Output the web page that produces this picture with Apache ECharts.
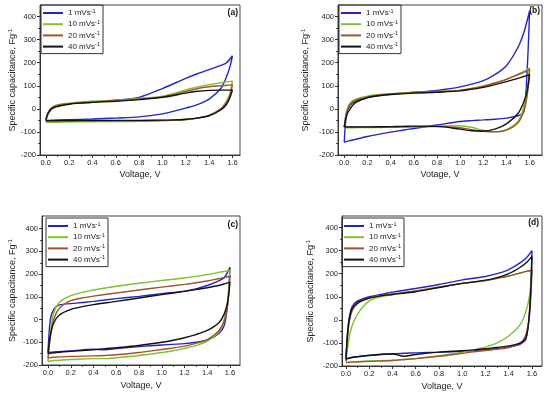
<!DOCTYPE html>
<html><head><meta charset="utf-8">
<script src="https://cdn.jsdelivr.net/npm/echarts@6/dist/echarts.min.js"></script>
<style>html,body{margin:0;padding:0;background:#fff}#c{width:550px;height:398px}</style>
</head><body><div id="c"></div>
<script>
// ---- data ----
const VF = [0, 0.02, 0.05, 0.1, 0.2, 0.3, 0.4, 0.6, 0.8, 1.0, 1.2, 1.3, 1.4, 1.5, 1.55, 1.6];
const VR = [1.6, 1.58, 1.55, 1.5, 1.4, 1.3, 1.2, 1.1, 1.0, 0.8, 0.6, 0.5, 0.4, 0.2, 0.05, 0];
const seriesNames = ['1 mVs', '10 mVs', '20 mVs', '40 mVs'];
const panelLabels = ['(a)', '(b)', '(c)', '(d)'];
const xTitles = ['Voltage, V', 'Votage, V', 'Voltage, V', 'Voltage, V'];
const yTitle = 'Specific capacitance, Fg';
const xTicks = [0, 0.2, 0.4, 0.6, 0.8, 1.0, 1.2, 1.4, 1.6];
const xMinorTicks = [0.1, 0.3, 0.5, 0.7, 0.9, 1.1, 1.3, 1.5];
const yTicks = [-200, -100, 0, 100, 200, 300, 400];
const yMinorTicks = [-150, -50, 50, 150, 250, 350];

// panel (a)
const A1F = [-50, -15, 5, 15, 22, 26, 30, 38, 50, 88, 132, 152, 170, 188, 200, 230];
const A1R = [230, 185, 140, 88, 42, 18, 3, -10, -22, -35, -40, -42, -44, -47, -50, -52];
const A10F = [-55, -20, 5, 18, 25, 30, 33, 38, 45, 55, 82, 95, 105, 113, 117, 120];
const A10R = [120, 70, 35, 0, -28, -40, -47, -50, -52, -54, -55, -55, -56, -57, -58, -58];
const A20F = [-50, -18, 5, 15, 22, 27, 30, 36, 42, 52, 75, 88, 96, 100, 102, 105];
const A20R = [105, 60, 28, 0, -28, -40, -46, -49, -50, -52, -52, -53, -53, -54, -55, -55];
const A40F = [-45, -20, 0, 10, 20, 25, 28, 33, 40, 50, 68, 76, 80, 81, 81, 81];
const A40R = [81, 50, 20, -5, -30, -40, -45, -48, -49, -50, -50, -50, -50, -50, -50, -50];
// panel (b)
const B1F = [-145, -20, 15, 35, 50, 58, 63, 72, 80, 95, 122, 148, 187, 267, 330, 425];
const B1R = [425, 180, -12, -30, -40, -45, -48, -51, -55, -70, -85, -93, -101, -120, -138, -145];
const B10F = [-82, -10, 25, 42, 55, 62, 66, 71, 75, 80, 98, 112, 128, 150, 162, 178];
const B10R = [178, 90, 10, -55, -90, -100, -93, -80, -73, -75, -78, -79, -80, -81, -82, -82];
const B20F = [-80, -15, 20, 38, 52, 60, 65, 70, 74, 80, 98, 112, 128, 148, 158, 170];
const B20R = [170, 60, -10, -60, -92, -100, -97, -90, -82, -76, -77, -78, -79, -80, -80, -80];
const B40F = [-78, -30, 0, 28, 48, 57, 62, 68, 72, 78, 93, 105, 118, 132, 140, 148];
const B40R = [148, 80, 30, -20, -65, -88, -97, -95, -88, -76, -75, -76, -77, -78, -78, -78];
// panel (c)
const C1F = [-145, 0, 45, 65, 70, 75, 80, 92, 102, 114, 125, 135, 150, 170, 185, 230];
const C1R = [230, 70, -25, -62, -90, -100, -106, -109, -112, -119, -128, -133, -130, -138, -142, -145];
const C10F = [-185, -60, 30, 75, 105, 120, 130, 147, 160, 172, 183, 190, 198, 208, 212, 216];
const C10R = [216, 80, 0, -55, -95, -115, -127, -137, -145, -158, -168, -172, -172, -176, -180, -185];
const C20F = [-170, -80, 0, 50, 83, 95, 103, 117, 130, 143, 155, 162, 170, 180, 185, 192];
const C20R = [192, 70, -5, -50, -88, -105, -117, -125, -132, -145, -155, -158, -160, -162, -166, -170];
const C40F = [-150, -70, -15, 20, 45, 57, 66, 80, 95, 110, 124, 132, 140, 150, 157, 165];
const C40R = [165, 80, 25, -15, -48, -66, -80, -91, -100, -114, -124, -128, -133, -140, -146, -150];
// panel (d)
const D1F = [-170, -20, 55, 82, 100, 110, 120, 136, 153, 173, 188, 200, 218, 248, 268, 300];
const D1R = [300, 50, -80, -105, -118, -125, -130, -133, -136, -140, -143, -145, -147, -155, -163, -170];
const D10F = [-182, -100, -30, 25, 82, 100, 110, 125, 142, 158, 170, 180, 190, 203, 210, 215];
const D10R = [215, 110, 40, -20, -70, -100, -118, -130, -140, -155, -168, -172, -175, -178, -182, -185];
const D20F = [-178, -40, 35, 70, 95, 105, 112, 125, 142, 158, 170, 180, 190, 203, 210, 215];
const D20R = [215, 30, -60, -100, -120, -127, -133, -138, -145, -158, -168, -172, -176, -180, -183, -185];
const D40F = [-170, -30, 45, 75, 94, 104, 110, 122, 140, 158, 172, 183, 200, 228, 247, 275];
const D40R = [275, 40, -75, -100, -113, -120, -125, -130, -134, -140, -150, -158, -148, -153, -163, -170];

const panels = [
  [A1F, A1R, A10F, A10R, A20F, A20R, A40F, A40R],
  [B1F, B1R, B10F, B10R, B20F, B20R, B40F, B40R],
  [C1F, C1R, C10F, C10R, C20F, C20R, C40F, C40R],
  [D1F, D1R, D10F, D10R, D20F, D20R, D40F, D40R]
];

// ---- layout / style ----
const FONT = '"Liberation Sans", Arial, sans-serif';
const colors = ['#2424c8', '#7cc22e', '#a4522c', '#111111'];
const G = [
  {left: 40, top: 5, width: 200, height: 150, xmin: -0.05, xmax: 1.665, ymin: -200, ymax: 450, yGap: 21, xGap: 15, lx: 41, ly: 5, tx: 238, ty: 13},
  {left: 338, top: 5, width: 204, height: 150, xmin: -0.054, xmax: 1.707, ymin: -200, ymax: 450, yGap: 27, xGap: 15, lx: 339, ly: 5, tx: 540, ty: 11},
  {left: 42, top: 216, width: 198, height: 149, xmin: -0.053, xmax: 1.688, ymin: -200, ymax: 456, yGap: 24, xGap: 16, lx: 46, ly: 218, tx: 238, ty: 225},
  {left: 342, top: 216, width: 200, height: 150, xmin: -0.034, xmax: 1.686, ymin: -200, ymax: 450, yGap: 26, xGap: 16, lx: 342, ly: 218, tx: 539, ty: 223}
];

function loop(f, r) {
  return VF.map((v, i) => [v, f[i]]).concat(VR.map((v, i) => [v, r[i]]));
}

const grid = [], xAxis = [], yAxis = [], series = [], legend = [], graphic = [];
const fmtX = v => (Math.round(v * 10) / 10).toFixed(1);

G.forEach((g, p) => {
  grid.push({left: g.left, top: g.top, width: g.width, height: g.height, show: true,
    borderColor: '#444', borderWidth: 1, backgroundColor: 'transparent', containLabel: false});
  xAxis.push({type: 'value', gridIndex: p, min: g.xmin, max: g.xmax, position: 'bottom',
    name: xTitles[p], nameLocation: 'middle', nameGap: g.xGap,
    nameTextStyle: {fontFamily: FONT, fontSize: 9, color: '#222'},
    axisLine: {show: true, onZero: false, lineStyle: {color: '#333', width: 1}},
    axisTick: {show: true, inside: false, length: 3, customValues: xTicks, lineStyle: {color: '#333'}},
    axisLabel: {show: true, customValues: xTicks, formatter: fmtX, margin: 4,
      fontFamily: FONT, fontSize: 7.5, color: '#222'},
    splitLine: {show: false}});
  xAxis.push({type: 'value', gridIndex: p, min: g.xmin, max: g.xmax, position: 'bottom',
    axisLine: {show: false, onZero: false},
    axisTick: {show: true, inside: false, length: 1.8, customValues: xMinorTicks, lineStyle: {color: '#333'}},
    axisLabel: {show: false}, splitLine: {show: false}});
  yAxis.push({type: 'value', gridIndex: p, min: g.ymin, max: g.ymax, position: 'left',
    name: '{m|' + yTitle + '}{s|-1}', nameLocation: 'middle', nameGap: g.yGap, nameRotate: 90,
    nameTextStyle: {fontFamily: FONT, fontSize: 9, color: '#222',
      rich: {m: {fontFamily: FONT, fontSize: 9, color: '#222'},
             s: {fontFamily: FONT, fontSize: 6, color: '#222', padding: [0, 0, 5, 0]}}},
    axisLine: {show: true, onZero: false, lineStyle: {color: '#333', width: 1}},
    axisTick: {show: true, inside: false, length: 3, customValues: yTicks, lineStyle: {color: '#333'}},
    axisLabel: {show: true, customValues: yTicks, margin: 4,
      fontFamily: FONT, fontSize: 7.5, color: '#222'},
    splitLine: {show: false}});
  yAxis.push({type: 'value', gridIndex: p, min: g.ymin, max: g.ymax, position: 'left',
    axisLine: {show: false, onZero: false},
    axisTick: {show: true, inside: false, length: 1.8, customValues: yMinorTicks, lineStyle: {color: '#333'}},
    axisLabel: {show: false}, splitLine: {show: false}});

  const d = panels[p];
  for (let k = 0; k < 4; k++) {
    series.push({type: 'line', name: seriesNames[k], xAxisIndex: 2 * p, yAxisIndex: 2 * p,
      data: loop(d[2 * k], d[2 * k + 1]), smooth: 0.3, symbol: 'none', showSymbol: false,
      lineStyle: {color: colors[k], width: 1.4}, itemStyle: {color: colors[k]},
      z: 2 + k, silent: true, animation: false, clip: true});
  }
  legend.push({orient: 'vertical', left: g.lx, top: g.ly, data: seriesNames,
    icon: 'rect', itemWidth: 20, itemHeight: 2, itemGap: 2.2, padding: [3, 3, 3, 2],
    borderColor: '#333', borderWidth: 1, backgroundColor: 'transparent',
    formatter: n => '{m|' + n + '}{s|-1}',
    textStyle: {fontFamily: FONT, fontSize: 8, color: '#222',
      rich: {m: {fontFamily: FONT, fontSize: 8, color: '#222'},
             s: {fontFamily: FONT, fontSize: 5.5, color: '#222', padding: [0, 0, 4, 0]}}},
    selectedMode: false});
  graphic.push({type: 'text', right: 550 - g.tx, top: g.ty - 5,
    style: {text: panelLabels[p], font: 'bold 8.5px ' + FONT, fill: '#111'}});
});

const chart = echarts.init(document.getElementById('c'), null, {renderer: 'canvas'});
chart.setOption({animation: false, backgroundColor: '#fff', grid, xAxis, yAxis, series, legend, graphic});
</script></body></html>
